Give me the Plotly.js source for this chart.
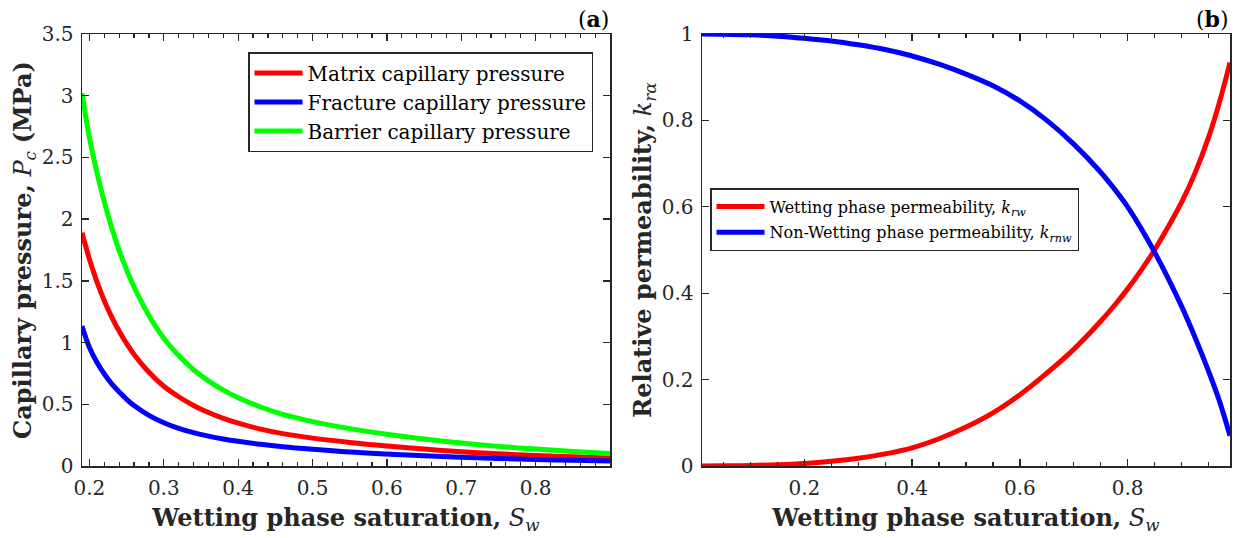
<!DOCTYPE html>
<html>
<head>
<meta charset="utf-8">
<script src="https://cdn.plot.ly/plotly-3.0.1.min.js"></script>
<style>
  html, body { margin: 0; padding: 0; background: #fff; }
  #chart { width: 1240px; height: 538px; }
</style>
</head>
<body>
<div id="chart"></div>
<script>
// ---- Panel (a): capillary pressure vs wetting saturation ----
const pcSw = [0.19, 0.20, 0.21, 0.22, 0.23, 0.24, 0.25, 0.26, 0.28, 0.30, 0.32, 0.34, 0.36, 0.38, 0.40, 0.43, 0.46, 0.50, 0.55, 0.60, 0.65, 0.70, 0.75, 0.80, 0.85, 0.90];
const matrixPc = [1.89, 1.675, 1.494, 1.339, 1.206, 1.091, 0.992, 0.904, 0.760, 0.646, 0.561, 0.490, 0.433, 0.386, 0.347, 0.299, 0.262, 0.226, 0.191, 0.162, 0.137, 0.116, 0.099, 0.086, 0.075, 0.065];
const fracturePc = [1.135, 0.96, 0.84, 0.745, 0.665, 0.60, 0.54, 0.49, 0.41, 0.35, 0.305, 0.27, 0.242, 0.219, 0.200, 0.176, 0.156, 0.135, 0.113, 0.097, 0.083, 0.071, 0.061, 0.053, 0.046, 0.040];
const barrierPc = [3.02, 2.66, 2.38, 2.14, 1.93, 1.745, 1.59, 1.45, 1.22, 1.035, 0.895, 0.78, 0.69, 0.615, 0.553, 0.478, 0.418, 0.360, 0.303, 0.258, 0.219, 0.186, 0.159, 0.137, 0.118, 0.102];

// ---- Panel (b): relative permeability vs wetting saturation ----
const krSw = [0.01, 0.05, 0.10, 0.15, 0.20, 0.25, 0.30, 0.35, 0.40, 0.45, 0.50, 0.55, 0.60, 0.65, 0.70, 0.75, 0.775, 0.80, 0.825, 0.85, 0.875, 0.90, 0.925, 0.95, 0.97, 0.99];
const krw = [0, 0.0003, 0.0012, 0.003, 0.006, 0.011, 0.018, 0.028, 0.042, 0.063, 0.09, 0.123, 0.165, 0.215, 0.27, 0.335, 0.371, 0.41, 0.453, 0.50, 0.553, 0.61, 0.678, 0.76, 0.84, 0.934];
const krnw = [1.0, 0.9995, 0.998, 0.995, 0.99, 0.984, 0.975, 0.964, 0.949, 0.93, 0.907, 0.88, 0.845, 0.80, 0.745, 0.68, 0.642, 0.60, 0.55, 0.495, 0.435, 0.37, 0.298, 0.22, 0.152, 0.07];

const seriesNames = ['Matrix capillary pressure', 'Fracture capillary pressure', 'Barrier capillary pressure'];
const krNames = ['Wetting phase permeability, <i>k</i><sub><i>rw</i></sub>', 'Non-Wetting phase permeability, <i>k</i><sub><i>rnw</i></sub>'];
const xTicksA = [0.2, 0.3, 0.4, 0.5, 0.6, 0.7, 0.8];
const xTicksB = [0.2, 0.4, 0.6, 0.8];

const FONT = 'DejaVu Serif';
const AX = '#262626';
const LW = 5;

function ln(color) { return { color: color, width: LW, shape: 'spline', smoothing: 1 }; }

const traces = [
  { x: pcSw, y: matrixPc, name: seriesNames[0], legendgroup: 'm', mode: 'lines', line: ln('#ff0000'), xaxis: 'x', yaxis: 'y', legend: 'legend' },
  { x: pcSw, y: fracturePc, name: seriesNames[1], legendgroup: 'f', mode: 'lines', line: ln('#0000ff'), xaxis: 'x', yaxis: 'y', legend: 'legend' },
  { x: pcSw, y: barrierPc, name: seriesNames[2], legendgroup: 'b', mode: 'lines', line: ln('#00ff00'), xaxis: 'x', yaxis: 'y', legend: 'legend' },
  { x: krSw, y: krw, name: krNames[0], legendgroup: 'w', mode: 'lines', line: ln('#ff0000'), xaxis: 'x2', yaxis: 'y2', legend: 'legend2' },
  { x: krSw, y: krnw, name: krNames[1], legendgroup: 'n', mode: 'lines', line: ln('#0000ff'), xaxis: 'x2', yaxis: 'y2', legend: 'legend2' }
];

function axisBase() {
  return {
    showline: true, linecolor: AX, linewidth: 1.5, mirror: 'allticks',
    ticks: 'inside', ticklen: 7, tickwidth: 1.3, tickcolor: AX,
    showgrid: false, zeroline: false, automargin: false,
    tickfont: { family: FONT, size: 20, color: AX },
    ticklabelstandoff: 3
  };
}

const W = 1240, H = 538;
const yDom = [(H - 466) / H, (H - 34) / H];
const TITLE_FONT = { family: FONT, size: 24, color: AX };

const layout = {
  width: W, height: H,
  margin: { l: 0, r: 0, t: 0, b: 0 },
  paper_bgcolor: '#ffffff', plot_bgcolor: '#ffffff',
  font: { family: FONT, color: AX },
  showlegend: true,
  xaxis: Object.assign(axisBase(), {
    domain: [82 / W, 610 / W], range: [0.19, 0.9], anchor: 'y',
    tickmode: 'array', tickvals: xTicksA,
    minor: { dtick: 0.02, tick0: 0.2, ticks: 'inside', ticklen: 4, tickcolor: AX, tickwidth: 1.2 },
    title: { text: '<b>Wetting phase saturation,</b> <i>S</i><sub><i>w</i></sub>', font: TITLE_FONT, standoff: 10 }
  }),
  yaxis: Object.assign(axisBase(), {
    domain: yDom, range: [0, 3.5], anchor: 'x',
    tick0: 0, dtick: 0.5,
    title: { text: '<b>Capillary pressure,</b> <i>P</i><sub><i>c</i></sub> <b>(MPa)</b>', font: TITLE_FONT, standoff: 3 }
  }),
  xaxis2: Object.assign(axisBase(), {
    domain: [702 / W, 1230 / W], range: [0.01, 0.99], anchor: 'y2',
    tickmode: 'array', tickvals: xTicksB,
    minor: { dtick: 0.05, tick0: 0, ticks: 'inside', ticklen: 4, tickcolor: AX, tickwidth: 1.2 },
    title: { text: '<b>Wetting phase saturation,</b> <i>S</i><sub><i>w</i></sub>', font: TITLE_FONT, standoff: 10 }
  }),
  yaxis2: Object.assign(axisBase(), {
    domain: yDom, range: [0, 1], anchor: 'x2',
    tick0: 0, dtick: 0.2,
    title: { text: '<b>Relative permeability,</b> <i>k</i><sub><i>rα</i></sub>', font: TITLE_FONT, standoff: 3 }
  }),
  legend: {
    x: 593 / W, xanchor: 'right', y: 1 - 52 / H, yanchor: 'top',
    bgcolor: '#ffffff', bordercolor: AX, borderwidth: 1.5,
    font: { family: FONT, size: 20, color: '#000' },
    tracegroupgap: 0, itemwidth: 48
  },
  legend2: {
    x: 710 / W, xanchor: 'left', y: 1 - 188 / H, yanchor: 'top',
    bgcolor: '#ffffff', bordercolor: AX, borderwidth: 1.5,
    font: { family: FONT, size: 16, color: '#000' },
    tracegroupgap: 2, itemwidth: 48
  },
  annotations: [
    { xref: 'paper', yref: 'paper', x: 611 / W, y: yDom[1], xanchor: 'right', yanchor: 'bottom',
      text: '(<b>a</b>)', showarrow: false, font: { family: FONT, size: 22, color: '#000' } },
    { xref: 'paper', yref: 'paper', x: 1231 / W, y: yDom[1], xanchor: 'right', yanchor: 'bottom',
      text: '(<b>b</b>)', showarrow: false, font: { family: FONT, size: 22, color: '#000' } }
  ]
};

Plotly.newPlot('chart', traces, layout, { displayModeBar: false, staticPlot: true });
</script>
</body>
</html>
